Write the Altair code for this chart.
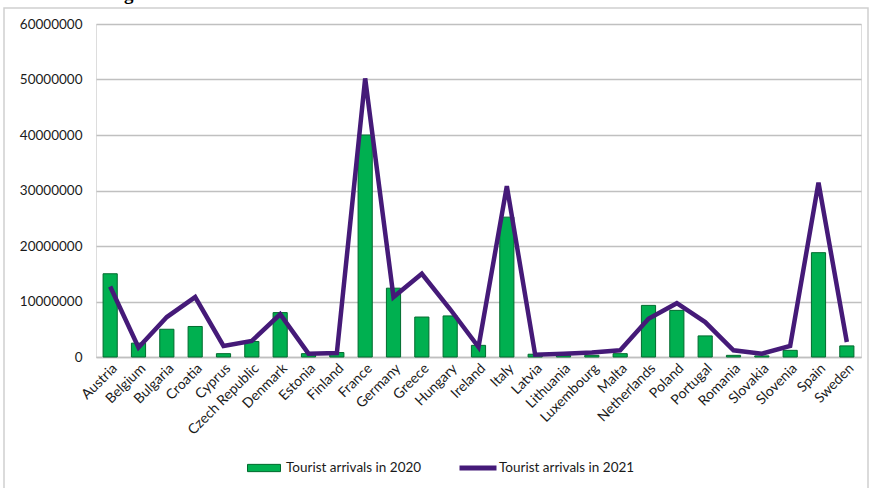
import altair as alt
import pandas as pd

countries = ["Austria", "Belgium", "Bulgaria", "Croatia", "Cyprus", "Czech Republic",
             "Denmark", "Estonia", "Finland", "France", "Germany", "Greece", "Hungary",
             "Ireland", "Italy", "Latvia", "Lithuania", "Luxembourg", "Malta",
             "Netherlands", "Poland", "Portugal", "Romania", "Slovakia", "Slovenia",
             "Spain", "Sweden"]
arrivals_2020 = [15000000, 2500000, 5000000, 5500000, 600000, 2800000, 8000000, 600000,
                 800000, 40000000, 12400000, 7200000, 7400000, 2100000, 25200000, 500000,
                 300000, 300000, 600000, 9300000, 8400000, 3800000, 300000, 200000,
                 1200000, 18800000, 2000000]
arrivals_2021 = [12700000, 1700000, 7200000, 10800000, 2000000, 2900000, 7700000, 600000,
                 700000, 50200000, 10800000, 15000000, 8600000, 1800000, 30800000, 400000,
                 600000, 800000, 1200000, 6900000, 9700000, 6300000, 1200000, 600000,
                 2000000, 31400000, 2700000]
series_2020 = "Tourist arrivals in 2020"
series_2021 = "Tourist arrivals in 2021"
title_text = ["Figure 3. Tourist arrivals in the EU Member States in 2020 and 2021"]

df = pd.DataFrame({
    "country": countries,
    "a2020": arrivals_2020,
    "a2021": arrivals_2021,
    "s2020": [series_2020] * len(countries),
    "s2021": [series_2021] * len(countries),
})

FONT = "Lato"

x_enc = alt.X("country:N", sort=countries, title=None,
              scale=alt.Scale(paddingInner=0.5, paddingOuter=0.25),
              axis=alt.Axis(labelAngle=-45, labelFontSize=14, labelFont=FONT,
                            labelColor="#1a1a1a", ticks=False, domainColor="#bfbfbf",
                            domainWidth=1.5, labelPadding=4))
y_scale = alt.Scale(domain=[0, 60000000])

bars = alt.Chart(df).mark_bar(stroke="#006b2e", strokeWidth=1).encode(
    x=x_enc,
    y=alt.Y("a2020:Q", scale=y_scale, title=None,
            axis=alt.Axis(values=[0, 10000000, 20000000, 30000000, 40000000, 50000000, 60000000],
                          format="d", labelFontSize=13.5, labelFont=FONT, labelColor="#1a1a1a",
                          ticks=False, domain=False, gridColor="#c0c0c0", gridWidth=1.5,
                          labelPadding=14)),
    fill=alt.Fill("s2020:N", scale=alt.Scale(domain=[series_2020], range=["#00b050"]),
                  legend=alt.Legend(title=None, orient="none", legendX=151, legendY=427,
                                    symbolType="M-1,-0.22H1V0.22H-1Z", symbolSize=1089,
                                    symbolStrokeColor="#006b2e", symbolStrokeWidth=1,
                                    labelFontSize=13.5, labelFont=FONT, labelColor="#1a1a1a",
                                    labelOffset=5, padding=0)),
)

line = alt.Chart(df).mark_line(strokeWidth=4.5, strokeJoin="miter").encode(
    x=alt.X("country:N", sort=countries),
    y=alt.Y("a2021:Q", scale=y_scale),
    stroke=alt.Stroke("s2021:N", scale=alt.Scale(domain=[series_2021], range=["#451a78"]),
                      legend=alt.Legend(title=None, orient="none", legendX=361, legendY=423,
                                        symbolType="stroke", symbolSize=1369,
                                        symbolStrokeWidth=5, symbolStrokeColor="#1f0e4e",
                                        labelFontSize=13.5, labelFont=FONT,
                                        labelColor="#1a1a1a", labelOffset=0, padding=0)),
)

frame = alt.Chart(pd.DataFrame({"f": [0]})).mark_rect(
    fill="transparent", stroke="#d0d0d0", strokeWidth=1.5
).encode(x=alt.value(-92), x2=alt.value(772), y=alt.value(-16), y2=alt.value(470))

title = alt.Chart(pd.DataFrame({"t": title_text})).mark_text(
    font="Liberation Serif", fontSize=19, fontWeight="bold", baseline="alphabetic",
    align="left", color="#000000"
).encode(text="t:N", x=alt.value(11), y=alt.value(-24))

chart = alt.layer(frame, bars, line, title).resolve_scale(fill="independent", stroke="independent").properties(
    width=765, height=333,
    autosize=alt.AutoSizeParams(type="none"),
    padding={"left": 96, "top": 24, "right": 10, "bottom": 131},
).configure_view(stroke=None).configure(background="white")

chart.save("out.html", embed_options={"renderer": "svg", "actions": False})
